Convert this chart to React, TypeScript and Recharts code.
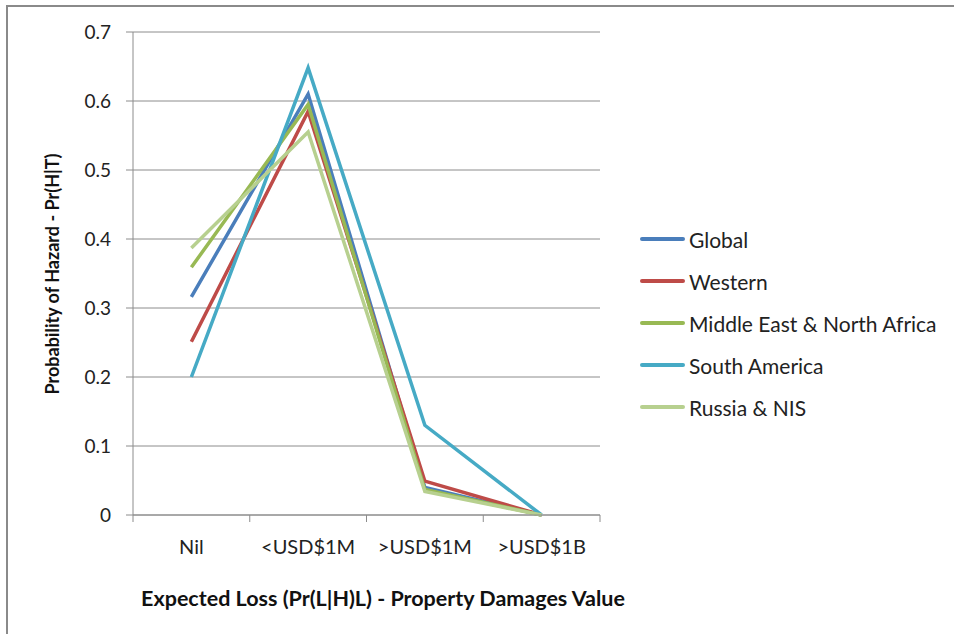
import { CartesianGrid, Line, LineChart, XAxis, YAxis } from "recharts";

const categories = ["Nil", "<USD$1M", ">USD$1M", ">USD$1B"];
const globalValues = [0.316, 0.61, 0.04, 0];
const westernValues = [0.251, 0.585, 0.049, 0];
const menaValues = [0.359, 0.595, 0.037, 0];
const southAmericaValues = [0.2, 0.648, 0.13, 0];
const russiaValues = [0.387, 0.555, 0.034, 0];
const yTicks = [0, 0.1, 0.2, 0.3, 0.4, 0.5, 0.6, 0.7];

const series = [
  { key: "global", name: "Global", color: "#4A7EBB", values: globalValues },
  { key: "western", name: "Western", color: "#BE4B48", values: westernValues },
  { key: "mena", name: "Middle East & North Africa", color: "#98B954", values: menaValues },
  { key: "sa", name: "South America", color: "#46AAC5", values: southAmericaValues },
  { key: "russia", name: "Russia & NIS", color: "#B7D08F", values: russiaValues },
];

// categories sit between integer boundaries so the tick marks fall between them
const data = categories.map((c, i) => {
  const row: Record<string, number | string> = { x: i + 0.5, cat: c };
  series.forEach((s) => (row[s.key] = s.values[i]));
  return row;
});
const boundaries = categories.map((_, i) => i).concat(categories.length);

const FONT = "Lato, 'Open Sans', sans-serif";

// label goes in the middle of the band that starts at this boundary tick
const CategoryTick = (props: any) => {
  const { x, y, width, payload } = props;
  const i = payload.value as number;
  if (i >= categories.length) return null;
  const half = width / categories.length / 2;
  return (
    <text
      x={x + half}
      y={y}
      dy="0.71em"
      textAnchor="middle"
      fontFamily={FONT}
      fontSize={20}
      fill="#222"
    >
      {categories[i]}
    </text>
  );
};

export default function App() {
  return (
    <div
      style={{
        position: "absolute",
        left: 0,
        top: 0,
        width: 954,
        height: 634,
        background: "#fff",
        overflow: "hidden",
      }}
    >
      <div
        style={{
          position: "absolute",
          left: 6,
          top: 5,
          width: 960,
          height: 640,
          borderTop: "2px solid #8a8a8a",
          borderLeft: "2px solid #8a8a8a",
        }}
      />
      <LineChart
        width={954}
        height={634}
        data={data}
        margin={{ top: 32, right: 354, left: 60, bottom: 69 }}
        style={{ position: "absolute", left: 0, top: 0 }}
      >
        <CartesianGrid vertical={false} stroke="#8c8c8c" strokeWidth={1} />
        <XAxis
          dataKey="x"
          type="number"
          domain={[0, 4]}
          ticks={boundaries}
          interval={0}
          tick={<CategoryTick />}
          tickSize={7}
          tickMargin={18}
          height={50}
          stroke="#8c8c8c"
        />
        <YAxis
          domain={[0, 0.7]}
          ticks={yTicks}
          tickFormatter={(v: number) => (v === 0 ? "0" : v.toFixed(1))}
          width={73}
          tickSize={7}
          tickMargin={15}
          stroke="#8c8c8c"
          tick={{ fontFamily: FONT, fontSize: 19, fill: "#222" }}
        />
        {series.map((s) => (
          <Line
            key={s.key}
            dataKey={s.key}
            name={s.name}
            stroke={s.color}
            strokeWidth={3.5}
            dot={false}
            activeDot={false}
            isAnimationActive={false}
          />
        ))}
      </LineChart>
      <div
        style={{
          position: "absolute",
          left: 640,
          top: 218,
          fontFamily: FONT,
          fontSize: 21,
          color: "#222",
        }}
      >
        {series.map((s) => (
          <div key={s.key} style={{ display: "flex", alignItems: "center", height: 42 }}>
            <div style={{ width: 45, height: 4, borderRadius: 2, background: s.color, marginRight: 4 }} />
            <span>{s.name}</span>
          </div>
        ))}
      </div>
      <div
        style={{
          position: "absolute",
          left: 0,
          top: 0,
          transform: "translate(52px, 274px) translate(-50%, -50%) rotate(-90deg)",
          whiteSpace: "nowrap",
          fontFamily: FONT,
          fontSize: 18,
          fontWeight: 700,
          lineHeight: "22px",
          color: "#111",
        }}
      >
        Probability of Hazard - Pr(H|T)
      </div>
      <div
        style={{
          position: "absolute",
          left: 0,
          width: 766,
          top: 585,
          textAlign: "center",
          fontFamily: FONT,
          fontSize: 21.5,
          fontWeight: 700,
          color: "#111",
        }}
      >
        Expected Loss (Pr(L|H)L) - Property Damages Value
      </div>
    </div>
  );
}
